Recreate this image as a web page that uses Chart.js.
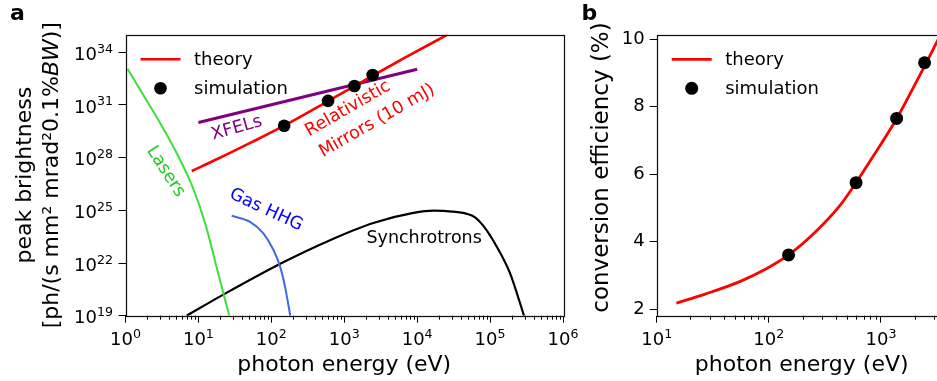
<!DOCTYPE html>
<html>
<head>
<meta charset="utf-8">
<script src="https://cdn.jsdelivr.net/npm/chart.js@4.4.1/dist/chart.umd.min.js"></script>
<style>
  html, body { margin: 0; padding: 0; background: #fff; overflow: hidden; }
  #wrap { position: relative; width: 937px; height: 381px; overflow: hidden; }
  #chartA { position: absolute; left: 0; top: 0; }
  #chartB { position: absolute; left: 580px; top: 0; }
</style>
</head>
<body>
<div id="wrap">
  <canvas id="chartA" width="580" height="381"></canvas>
  <canvas id="chartB" width="380" height="381"></canvas>
</div>
<script>
// ---- panel a: peak brightness vs photon energy ----
const mirrorE = [8.1, 18.8, 53.8, 150, 600, 1380, 2450, 7200, 26000];
const mirrorB = [1.74e27, 8.9e27, 7.6e28, 6.6e29, 1.66e31, 1.17e32, 4.6e32, 5.6e33, 1.0e35];

const simE = [150, 600, 1380, 2450];
const simB = [6.6e29, 1.7e31, 1.2e32, 5.1e32];

const xfelE = [10, 10000];
const xfelB = [1.0e30, 1.07e33];

const laserE = [1.07, 1.67, 2.82, 4.78, 8.09, 12.3, 17.8, 26.5];
const laserB = [1.1e33, 5.2e31, 1.4e30, 2.7e28, 2.8e26, 2.0e24, 5.6e21, 1.0e19];

const hhgE = [28.6, 51, 77.7, 107, 132, 154, 182];
const hhgB = [4.9e24, 2.2e24, 4.9e23, 5.5e22, 6.2e21, 4.5e20, 1.0e19];

const syncE = [6.9, 23.2, 139, 638, 2500, 8900, 16700, 30000, 47900, 62200, 80900, 123600, 188000, 292000];
const syncB = [1.0e19, 1.8e20, 1.0e22, 2.0e23, 1.9e24, 7.1e24, 9.5e24, 8.5e24, 6.3e24, 4.0e24, 1.3e24, 8.5e22, 2.6e21, 1.0e19];

const xTicksA = [1, 10, 100, 1e3, 1e4, 1e5, 1e6];
const yTicksA = [1e19, 1e22, 1e25, 1e28, 1e31, 1e34];

// ---- panel b: conversion efficiency ----
const effE = [15, 27, 55, 95, 150, 260, 430, 600, 860, 1380, 1950, 2450, 3050, 3300];
const eff = [2.18, 2.45, 2.82, 3.2, 3.61, 4.29, 5.07, 5.75, 6.55, 7.64, 8.57, 9.2, 9.82, 10.04];
const simEff = [3.61, 5.75, 7.65, 9.30];

const xTicksB = [10, 100, 1000];
const yTicksB = [2, 4, 6, 8, 10];

const FONT = '"DejaVu Sans", sans-serif';
Chart.defaults.font.family = FONT;
Chart.defaults.color = '#000';

const pts = (xs, ys) => xs.map((x, i) => ({x, y: ys[i]}));

// minor tick values for log axes (2..9 x 10^n)
function minorTicks(lo, hi) {
    const out = [];
    for (let e = Math.floor(Math.log10(lo)); e <= Math.ceil(Math.log10(hi)); e++) {
        for (let m = 2; m <= 9; m++) {
            const v = m * Math.pow(10, e);
            if (v > lo && v < hi) out.push(v);
        }
    }
    return out;
}

// fixed axis size, and no extra padding for overhanging labels
const fixSize = (key, val) => (s) => {
    s[key] = val;
    s.paddingLeft = s.paddingRight = s.paddingTop = s.paddingBottom = 0;
};

// 10^n tick labels with a real raised exponent
const powLabels = {
    id: 'powLabels',
    afterDraw(chart) {
        const {ctx} = chart;
        ctx.save();
        ctx.fillStyle = '#000';
        ctx.textAlign = 'left';
        ctx.textBaseline = 'alphabetic';
        Object.values(chart.scales).forEach(s => {
            if (s.type !== 'logarithmic') return;
            s.ticks.forEach(t => {
                const exp = String(Math.round(Math.log10(t.value)));
                ctx.font = '18px ' + FONT;
                const wb = ctx.measureText('10').width;
                ctx.font = '12.6px ' + FONT;
                const we = ctx.measureText(exp).width;
                const p = s.getPixelForValue(t.value);
                let x0, y0;
                if (s.isHorizontal()) {
                    x0 = p - (wb + we) / 2;
                    y0 = s.top + 29.3;
                } else {
                    x0 = s.right - 12.5 - (wb + we);
                    y0 = p + 7.7;
                }
                ctx.font = '18px ' + FONT;
                ctx.fillText('10', x0, y0);
                ctx.font = '12.6px ' + FONT;
                ctx.fillText(exp, x0 + wb, y0 - 7.2);
            });
        });
        ctx.restore();
    }
};

// frame, minor ticks, legend, panel letter
const decorations = {
    id: 'decorations',
    afterDatasetsDraw(chart, args, opts) {
        const {ctx, chartArea: a, scales: {x}} = chart;
        ctx.save();
        ctx.strokeStyle = '#000';
        ctx.lineWidth = 1;
        ctx.beginPath();
        (opts.minor || []).forEach(v => {
            const px = Math.round(x.getPixelForValue(v)) + 0.5;
            ctx.moveTo(px, a.bottom);
            ctx.lineTo(px, a.bottom + 4);
        });
        ctx.stroke();

        ctx.lineWidth = 1.25;
        ctx.strokeStyle = '#111';
        ctx.strokeRect(Math.round(a.left) + 0.5, Math.round(a.top) + 0.5,
            Math.round(a.right - a.left), Math.round(a.bottom - a.top));

        // legend
        const theory = chart.data.datasets.find(d => d.label === 'theory');
        const sim = chart.data.datasets.find(d => d.label === 'simulation');
        ctx.strokeStyle = theory.borderColor;
        ctx.lineWidth = theory.borderWidth;
        ctx.beginPath();
        ctx.moveTo(a.left + 15, a.top + 24.6);
        ctx.lineTo(a.left + 55, a.top + 24.6);
        ctx.stroke();
        ctx.fillStyle = sim.pointBackgroundColor;
        ctx.beginPath();
        ctx.arc(a.left + 35, a.top + 53.6, sim.pointRadius, 0, Math.PI * 2);
        ctx.fill();
        ctx.fillStyle = '#000';
        ctx.font = '18px ' + FONT;
        ctx.textAlign = 'left';
        ctx.textBaseline = 'alphabetic';
        ctx.fillText('theory', a.left + 68.5, a.top + 30.5);
        ctx.fillText('simulation', a.left + 68.5, a.top + 59.5);

        // panel letter
        ctx.font = 'bold 22px ' + FONT;
        ctx.fillText(opts.letter, opts.letterX, 20);
        ctx.restore();
    }
};

// rotated text labels placed at data coordinates
const notes = {
    id: 'notes',
    afterDatasetsDraw(chart, args, opts) {
        const {ctx, scales: {x, y}} = chart;
        (opts.items || []).forEach(n => {
            ctx.save();
            ctx.translate(x.getPixelForValue(n.x), y.getPixelForValue(n.y));
            ctx.rotate(n.angle * Math.PI / 180);
            ctx.font = '17.5px ' + FONT;
            ctx.fillStyle = n.color;
            ctx.textAlign = n.align || 'center';
            ctx.textBaseline = n.baseline || 'middle';
            n.lines.forEach((t, i) => ctx.fillText(t, n.dx ? n.dx * i : 0, i * 25));
            ctx.restore();
        });
    }
};

// vertical axis title drawn in runs (for the italic BW)
const yTitle = {
    id: 'yTitle',
    afterDraw(chart, args, opts) {
        const {ctx} = chart;
        ctx.save();
        ctx.fillStyle = '#000';
        ctx.textAlign = 'left';
        ctx.textBaseline = 'middle';
        (opts.rows || []).forEach(r => {
            let total = 0;
            r.runs.forEach(s => { ctx.font = s.f; s.w = ctx.measureText(s.t).width; total += s.w; });
            ctx.save();
            ctx.translate(r.x, opts.cy);
            ctx.rotate(-Math.PI / 2);
            let pos = -total / 2;
            r.runs.forEach(s => { ctx.font = s.f; ctx.fillText(s.t, pos, 0); pos += s.w; });
            ctx.restore();
        });
        ctx.restore();
    }
};

function logAxis(min, max, ticks, fitKey, fitVal) {
    return {
        type: 'logarithmic',
        min: min,
        max: max,
        afterBuildTicks: s => { s.ticks = ticks.map(v => ({value: v})); },
        afterFit: fixSize(fitKey, fitVal),
        ticks: {display: false, autoSkip: false, maxRotation: 0, minRotation: 0},
        grid: {drawOnChartArea: false, tickLength: 7, color: '#000', tickWidth: 1},
        border: {display: false}
    };
}

const xTitle = {display: true, text: 'photon energy (eV)', font: {size: 22}, color: '#000', padding: {top: 0, bottom: 3}};

// panel a
const xA = logAxis(1, 1e6, xTicksA, 'height', 65.3);
xA.title = xTitle;
new Chart(document.getElementById('chartA'), {
    type: 'scatter',
    data: {
        datasets: [
            {label: 'simulation', data: pts(simE, simB), pointRadius: 6.3, pointBackgroundColor: '#000', pointBorderWidth: 0, showLine: false},
            {label: 'theory', data: pts(mirrorE, mirrorB), showLine: true, borderColor: '#ff0000', borderWidth: 2.6, pointRadius: 0, cubicInterpolationMode: 'monotone'},
            {label: 'XFELs', data: pts(xfelE, xfelB), showLine: true, borderColor: '#800080', borderWidth: 3, pointRadius: 0},
            {label: 'Lasers', data: pts(laserE, laserB), showLine: true, borderColor: '#3be13b', borderWidth: 2, pointRadius: 0, cubicInterpolationMode: 'monotone'},
            {label: 'Gas HHG', data: pts(hhgE, hhgB), showLine: true, borderColor: '#4169e1', borderWidth: 2, pointRadius: 0, cubicInterpolationMode: 'monotone'},
            {label: 'Synchrotrons', data: pts(syncE, syncB), showLine: true, borderColor: '#000', borderWidth: 2.2, pointRadius: 0, cubicInterpolationMode: 'monotone'}
        ]
    },
    options: {
        responsive: false,
        animation: false,
        layout: {autoPadding: false, padding: {left: 0, top: 34.7, right: 17, bottom: 0}},
        scales: {
            x: xA,
            y: logAxis(1e19, 1e35, yTicksA, 'width', 125.5)
        },
        plugins: {
            legend: {display: false},
            tooltip: {enabled: false},
            decorations: {minor: minorTicks(1, 1e6), letter: 'a', letterX: 10},
            notes: {items: [
                {lines: ['Synchrotrons'], x: 12450, y: 2.4e23, angle: 0, color: '#000'},
                {lines: ['Gas HHG'], x: 84.6, y: 1.05e25, angle: 25, color: '#0000ff'},
                {lines: ['Lasers'], x: 3.56, y: 1.6e27, angle: 57, color: '#22cc22'},
                {lines: ['XFELs'], x: 33.5, y: 4.7e29, angle: -16, color: '#800080'},
                {lines: ['Relativistic', 'Mirrors (10 mJ)'], x: 329, y: 1.6e29, angle: -30, color: '#ff0000', align: 'left', baseline: 'alphabetic', dx: 1.7}
            ]},
            yTitle: {cy: 175.2, rows: [
                {x: 25, runs: [{t: 'peak brightness', f: '22px ' + FONT}]},
                {x: 52, runs: [
                    {t: '[ph/(s mm² mrad²0.1%', f: '22px ' + FONT},
                    {t: 'BW', f: 'italic 22px ' + FONT},
                    {t: ')]', f: '22px ' + FONT}
                ]}
            ]}
        }
    },
    plugins: [decorations, notes, yTitle, powLabels]
});

// panel b
const xB = logAxis(10, 3860, xTicksB, 'height', 65.3);
xB.title = xTitle;
new Chart(document.getElementById('chartB'), {
    type: 'scatter',
    data: {
        datasets: [
            {label: 'simulation', data: pts(simE, simEff), pointRadius: 6.5, pointBackgroundColor: '#000', pointBorderWidth: 0, showLine: false},
            {label: 'theory', data: pts(effE, eff), showLine: true, borderColor: '#ff0000', borderWidth: 2.8, pointRadius: 0, cubicInterpolationMode: 'monotone'}
        ]
    },
    options: {
        responsive: false,
        animation: false,
        layout: {autoPadding: false, padding: {left: 0, top: 34.7, right: 13.3, bottom: 0}},
        scales: {
            x: xB,
            y: {
                type: 'linear',
                min: 1.81,
                max: 10.13,
                afterBuildTicks: s => { s.ticks = yTicksB.map(v => ({value: v})); },
                afterFit: fixSize('width', 76.7),
                ticks: {font: {size: 18}, color: '#000', padding: 5},
                grid: {drawOnChartArea: false, tickLength: 7, color: '#000', tickWidth: 1},
                border: {display: false}
            }
        },
        plugins: {
            legend: {display: false},
            tooltip: {enabled: false},
            decorations: {minor: minorTicks(10, 3860), letter: 'b', letterX: 1.5},
            notes: {items: []},
            yTitle: {cy: 167.5, rows: [
                {x: 22.5, runs: [{t: 'conversion efficiency (%)', f: '23px ' + FONT}]}
            ]}
        }
    },
    plugins: [decorations, notes, yTitle, powLabels]
});
</script>
</body>
</html>
